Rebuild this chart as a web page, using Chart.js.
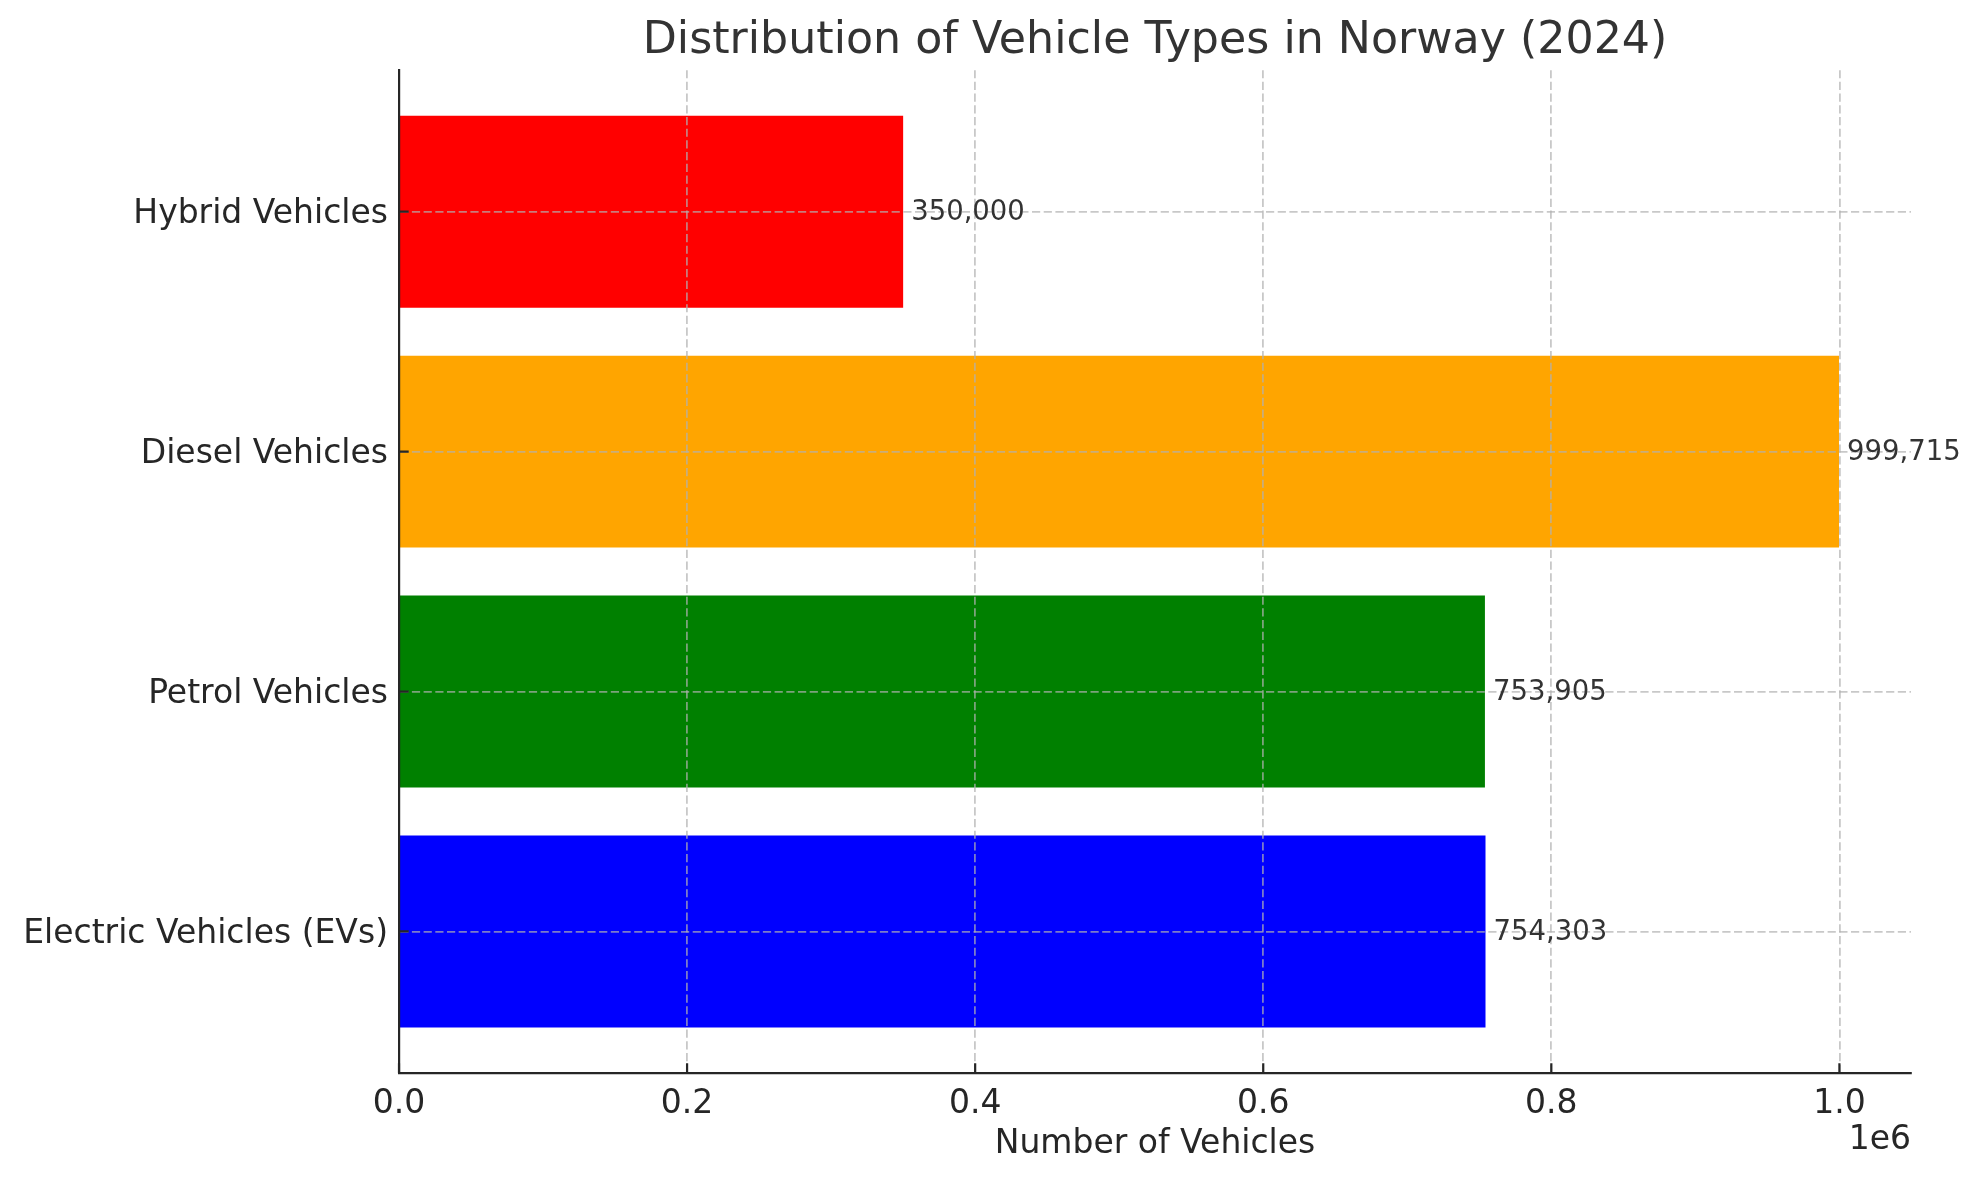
<!DOCTYPE html>
<html>
<head>
<meta charset="utf-8">
<script src="https://cdn.jsdelivr.net/npm/chart.js@4"></script>
<style>
  html, body { margin: 0; padding: 0; background: #ffffff; }
  #wrap { width: 1981px; height: 1180px; position: relative; }
</style>
</head>
<body>
<div id="wrap"><canvas id="c"></canvas></div>
<script>
// ---- data (bottom to top, as drawn) ----
const categories = ["Electric Vehicles (EVs)", "Petrol Vehicles", "Diesel Vehicles", "Hybrid Vehicles"];
const vehicleCounts = [754303, 753905, 999715, 350000];
const barColors = ["#0000ff", "#008000", "#ffa500", "#ff0000"];
const xTickValues = [0, 200000, 400000, 600000, 800000, 1000000];
const titleText = "Distribution of Vehicle Types in Norway (2024)";
const xAxisTitle = "Number of Vehicles";
const offsetText = "1e6";

const FONT = "'DejaVu Sans', sans-serif";
const gridColor = "rgba(176,176,176,0.7)";
const axisColor = "#262626";
const positions = categories.map((_, i) => i);
const xMax = Math.max(...vehicleCounts) * 1.05;

const labelsPlugin = {
  id: 'valueLabels',
  afterDraw(chart) {
    const ctx = chart.ctx;
    const meta = chart.getDatasetMeta(0);
    ctx.save();
    ctx.font = "27.5px " + FONT;
    ctx.fillStyle = "#333333";
    ctx.textAlign = "left";
    ctx.textBaseline = "middle";
    meta.data.forEach((bar, i) => {
      ctx.fillText(vehicleCounts[i].toLocaleString('en-US'), bar.x + 8, bar.y + 1);
    });
    // inward tick marks
    const xs = chart.scales.x, ys = chart.scales.y;
    const area = chart.chartArea;
    ctx.strokeStyle = axisColor;
    ctx.lineWidth = 2.2;
    ctx.beginPath();
    xs.ticks.forEach(t => {
      const px = xs.getPixelForValue(t.value);
      ctx.moveTo(px, area.bottom);
      ctx.lineTo(px, area.bottom - 9.7);
    });
    ys.ticks.forEach(t => {
      const py = ys.getPixelForValue(t.value);
      ctx.moveTo(area.left, py);
      ctx.lineTo(area.left + 9.7, py);
    });
    ctx.stroke();
    // offset text
    ctx.font = "33px " + FONT;
    ctx.fillStyle = axisColor;
    ctx.textAlign = "right";
    ctx.textBaseline = "middle";
    ctx.fillText(offsetText, area.right, 1140);
    ctx.restore();
  }
};

new Chart(document.getElementById('c'), {
  type: 'bar',
  data: {
    datasets: [{
      data: vehicleCounts.map((v, i) => ({ x: v, y: positions[i] })),
      backgroundColor: barColors,
      borderWidth: 0,
      categoryPercentage: 0.8,
      barPercentage: 1.0
    }]
  },
  options: {
    indexAxis: 'y',
    responsive: true,
    maintainAspectRatio: false,
    animation: false,
    devicePixelRatio: 1,
    layout: { padding: { left: 0, right: 70, top: 0, bottom: 0 } },
    plugins: {
      legend: { display: false },
      tooltip: { enabled: false },
      title: {
        display: true,
        fullSize: false,
        text: titleText,
        color: "#333333",
        font: { family: FONT, size: 44.3, weight: 'normal' },
        padding: { top: 15, bottom: 2 }
      }
    },
    scales: {
      x: {
        type: 'linear',
        min: 0,
        max: xMax,
        afterBuildTicks(scale) { scale.ticks = xTickValues.map(v => ({ value: v })); },
        afterFit(scale) { scale.height = 107; },
        ticks: {
          color: axisColor,
          font: { family: FONT, size: 33 },
          padding: 12,
          maxRotation: 0,
          autoSkip: false,
          callback: (v) => (v / 1e6).toFixed(1)
        },
        grid: { color: gridColor, lineWidth: 1.8, drawTicks: false, z: 1 },
        border: { display: true, color: axisColor, width: 2.2, dash: [8.2, 3.5], z: 2 },
        title: {
          display: true,
          text: xAxisTitle,
          color: axisColor,
          font: { family: FONT, size: 33 },
          padding: { top: 0, bottom: 16 }
        }
      },
      y: {
        type: 'linear',
        min: -0.59,
        max: 3.59,
        offset: false,
        afterBuildTicks(scale) { scale.ticks = positions.map(v => ({ value: v })); },
        afterFit(scale) { scale.width = 399; },
        ticks: {
          color: axisColor,
          font: { family: FONT, size: 33 },
          padding: 11,
          labelOffset: 3,
          autoSkip: false,
          callback: (v) => categories[v]
        },
        grid: { color: gridColor, lineWidth: 1.8, drawTicks: false, offset: false, z: 1 },
        border: { display: true, color: axisColor, width: 2.2, dash: [8.2, 3.5], z: 2 }
      }
    }
  },
  plugins: [labelsPlugin]
});
</script>
</body>
</html>
